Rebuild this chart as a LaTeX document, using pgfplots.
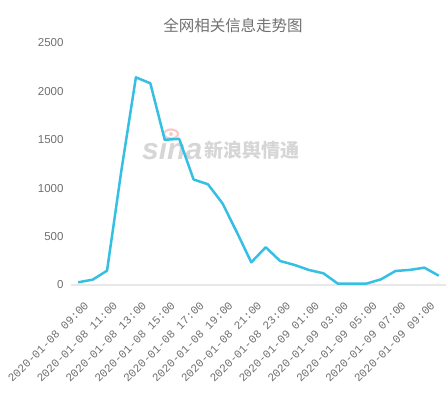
\documentclass[border=0pt]{standalone}
\usepackage{fontspec}
\setmainfont{Liberation Sans}
\newfontfamily\cjk{Noto Sans CJK SC}
\newfontfamily\mono{Liberation Mono}
\usepackage{pgfplots}
\pgfplotsset{compat=1.18}
\definecolor{linec}{HTML}{35BFE3}
\definecolor{txt}{HTML}{707070}
\definecolor{base}{HTML}{E8E8E8}
\definecolor{wm}{HTML}{D6D6D6}
\definecolor{wmred}{HTML}{F6CACA}
\begin{document}
\begin{tikzpicture}
\node[font=\cjk\fontsize{15.5}{18}\selectfont, text=txt] at (233pt,370pt) {全网相关信息走势图};
\draw[wmred, line width=2.2pt] (171pt,262pt) ellipse (7pt and 4.5pt);
\fill[wmred] (171pt,262pt) circle (2pt);
\node[font=\bfseries\itshape\fontsize{30}{32}\selectfont, text=wm, anchor=base west, inner sep=0] at (142pt,236pt) {sina};
\node[font=\cjk\bfseries\itshape\fontsize{19}{22}\selectfont, text=wm, anchor=base west, inner sep=0] at (204pt,238pt) {新浪舆情通};
\begin{axis}[
  at={(71pt,111pt)}, anchor=south west,
  scale only axis, width=375pt, height=242pt,
  xmin=-0.5, xmax=25.5, ymin=0, ymax=2500,
  axis x line=bottom, axis y line=left,
  x axis line style={draw=base, line width=1.5pt, -},
  y axis line style={draw=none},
  major tick length=0pt,
  xtick={0,2,...,24},
  xticklabels={2020-01-08 09:00,2020-01-08 11:00,2020-01-08 13:00,2020-01-08 15:00,2020-01-08 17:00,2020-01-08 19:00,2020-01-08 21:00,2020-01-08 23:00,2020-01-09 01:00,2020-01-09 03:00,2020-01-09 05:00,2020-01-09 07:00,2020-01-09 09:00},
  ytick={0,500,...,2500},
  /pgf/number format/assume math mode=true,
  /pgf/number format/1000 sep={},
  yticklabel style={font=\fontsize{11.5}{13}\selectfont, text=txt, anchor=east, xshift=-4pt},
  xticklabel style={font=\mono\fontsize{11.3}{13}\selectfont, text=txt, inner sep=0pt, xshift=8.5pt, yshift=-18.5pt, rotate=45, anchor=east},
  clip=false,
]
\addplot[linec, line width=2.5pt, line join=round] coordinates {
(0,28) (1,55) (2,148) (3,1190) (4,2145) (5,2084) (6,1500) (7,1510)
(8,1090) (9,1040) (10,844) (11,545) (12,234) (13,390) (14,248) (15,207)
(16,155) (17,121) (18,14) (19,14) (20,15) (21,59) (22,145) (23,156)
(24,179) (25,96)
};
\end{axis}
\pgfresetboundingbox
\path[use as bounding box] (0,0) rectangle (448pt,396pt);
\end{tikzpicture}
\end{document}
